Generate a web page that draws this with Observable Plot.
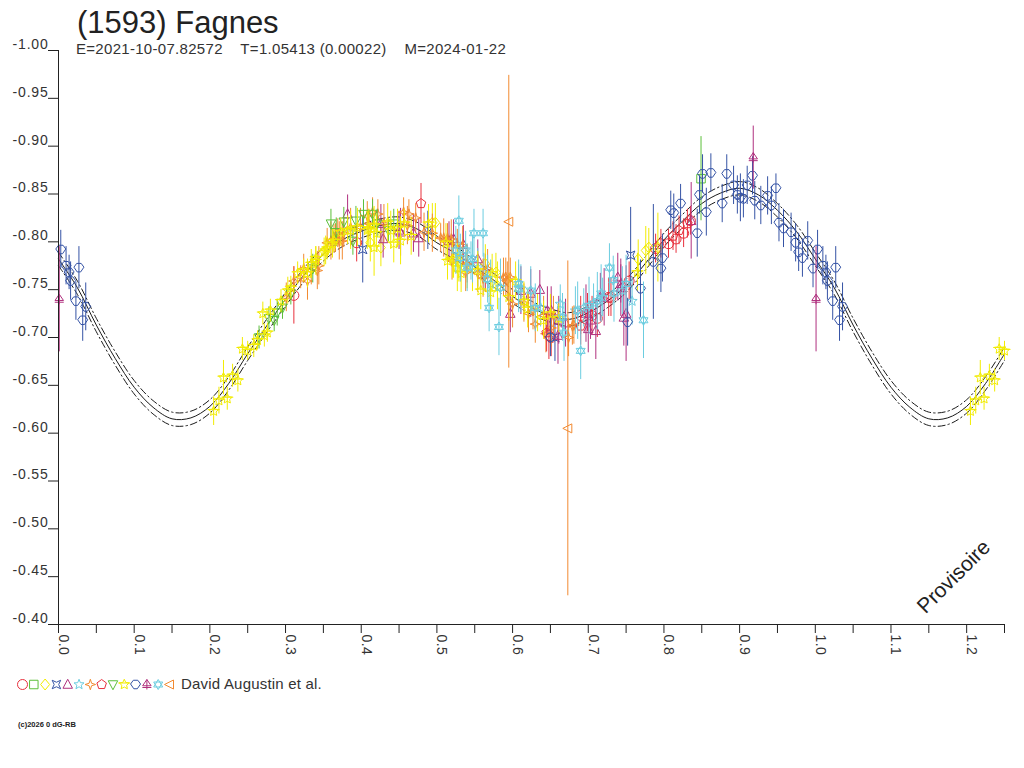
<!DOCTYPE html>
<html><head><meta charset="utf-8">
<script src="https://cdn.jsdelivr.net/npm/d3@7"></script>
<script src="https://cdn.jsdelivr.net/npm/@observablehq/plot@0.6"></script>
<style>
body{margin:0;background:#fff;font-family:"Liberation Sans",Arial,sans-serif;color:#222;}
#wrap{position:relative;width:1024px;height:768px;overflow:hidden;background:#fff;}
#title{position:absolute;left:77px;top:7px;font-size:31px;line-height:1;white-space:pre;color:#222;}
#chart{position:absolute;left:0;top:36px;}
#subtitle{position:absolute;left:76px;top:41px;font-size:15px;line-height:1;white-space:pre;color:#333;letter-spacing:0.3px;}
#legend{position:absolute;left:0;top:672px;}
#legtext{position:absolute;left:181px;top:676px;font-size:15px;line-height:1;white-space:pre;color:#333;letter-spacing:0.2px;}
#copy{position:absolute;left:18px;top:721px;font-size:7.5px;line-height:1;white-space:pre;color:#222;font-weight:bold;}
#chart g[aria-label="y-axis tick label"] text{letter-spacing:0.8px;}
#chart g[aria-label="x-axis tick label"] text{letter-spacing:0.4px;}
</style></head>
<body>
<div id="wrap">
  <div id="title">(1593) Fagnes</div>
  <div id="chart"></div>
  <div id="subtitle">E=2021-10-07.82572    T=1.05413 (0.00022)    M=2024-01-22</div>
  <div id="legend"></div>
  <div id="legtext">David Augustin et al.</div>
  <div id="copy">(c)2026 0 dG-RB</div>
</div>
<script>
// ---------- axis ticks ----------
const yTicks = [-1.00,-0.95,-0.90,-0.85,-0.80,-0.75,-0.70,-0.65,-0.60,-0.55,-0.50,-0.45,-0.40];
const xTicks = [0,0.05,0.1,0.15,0.2,0.25,0.3,0.35,0.4,0.45,0.5,0.55,0.6,0.65,0.7,0.75,0.8,0.85,0.9,0.95,1.0,1.05,1.1,1.15,1.2,1.25];
const xLabels = [0,0.1,0.2,0.3,0.4,0.5,0.6,0.7,0.8,0.9,1.0,1.1,1.2];

// ---------- fitted curve ----------
const fitPhase = [0,0.025,0.05,0.075,0.1,0.125,0.15,0.175,0.2,0.225,0.25,0.275,0.3,0.325,0.35,0.375,0.4,0.425,0.45,0.475,0.5,0.525,0.55,0.575,0.6,0.625,0.65,0.675,0.7,0.725,0.75,0.775,0.8,0.825,0.85,0.875,0.9,0.925,0.95,0.975];
const fitMag   = [-0.782,-0.752,-0.713,-0.678,-0.648,-0.627,-0.615,-0.616,-0.628,-0.652,-0.683,-0.712,-0.740,-0.766,-0.787,-0.802,-0.811,-0.817,-0.819,-0.813,-0.799,-0.788,-0.774,-0.760,-0.743,-0.731,-0.723,-0.719,-0.726,-0.738,-0.754,-0.777,-0.802,-0.822,-0.840,-0.851,-0.856,-0.849,-0.833,-0.811];
const fitBand = 0.007;

// ---------- observations: [phase, mag, error] ----------
const s1 = [[0.311,-0.744,0.03],[0.394,-0.799,0.02],[0.564,-0.767,0.02],[0.648,-0.702,0.025],[0.651,-0.700,0.02],[0.690,-0.723,0.02],[0.699,-0.726,0.02],[0.705,-0.723,0.02],[0.712,-0.720,0.02],[0.727,-0.742,0.02],[0.730,-0.742,0.02],[0.754,-0.759,0.02],[0.789,-0.793,0.015],[0.796,-0.798,0.015],[0.806,-0.798,0.015],[0.816,-0.803,0.015],[0.826,-0.809,0.015],[0.835,-0.822,0.015]];
const s2 = [[0.849,-0.866,0.044]];
const s3 = [[0.412,-0.799,0.02],[0.426,-0.794,0.02],[0.494,-0.820,0.02],[0.498,-0.820,0.02],[0.522,-0.782,0.02],[0.529,-0.778,0.02],[0.531,-0.778,0.02],[0.540,-0.771,0.02],[0.547,-0.773,0.025],[0.564,-0.777,0.02],[0.578,-0.768,0.02],[0.580,-0.754,0.025],[0.633,-0.726,0.02],[0.766,-0.782,0.02],[0.776,-0.791,0.025],[0.780,-0.794,0.02],[0.792,-0.794,0.036]];
const s4 = [[0.402,-0.792,0.035],[0.488,-0.812,0.02],[0.656,-0.700,0.025],[0.756,-0.786,0.05]];
const s5 = [[0.382,-0.829,0.02],[0.426,-0.819,0.02],[0.429,-0.803,0.02],[0.450,-0.812,0.02],[0.452,-0.810,0.025],[0.469,-0.809,0.02],[0.476,-0.804,0.02],[0.516,-0.801,0.02],[0.522,-0.803,0.02],[0.535,-0.797,0.02],[0.554,-0.782,0.02],[0.597,-0.725,0.02],[0.611,-0.749,0.025],[0.624,-0.746,0.025],[0.636,-0.750,0.02],[0.646,-0.728,0.025],[0.651,-0.728,0.025],[0.660,-0.702,0.03],[0.661,-0.718,0.025],[0.670,-0.715,0.025],[0.697,-0.725,0.03],[0.700,-0.709,0.025],[0.703,-0.718,0.02],[0.710,-0.707,0.03],[0.716,-0.742,0.025],[0.721,-0.742,0.03],[0.739,-0.763,0.025],[0.743,-0.756,0.02],[0.743,-0.752,0.03],[0.747,-0.721,0.03],[0.750,-0.725,0.05],[0.836,-0.822,0.04]];
const s6 = [[0.545,-0.780,0.02],[0.554,-0.773,0.02],[0.562,-0.768,0.02],[0.571,-0.756,0.025],[0.611,-0.751,0.025],[0.637,-0.731,0.02],[0.663,-0.735,0.02],[0.683,-0.728,0.025],[0.694,-0.731,0.02],[0.707,-0.736,0.02],[0.719,-0.742,0.02],[0.745,-0.749,0.025],[0.758,-0.738,0.025]];
const s7 = [[0.301,-0.742,0.015],[0.311,-0.759,0.015],[0.320,-0.763,0.012],[0.324,-0.772,0.015],[0.329,-0.759,0.02],[0.334,-0.770,0.015],[0.342,-0.770,0.02],[0.344,-0.775,0.02],[0.355,-0.799,0.015],[0.360,-0.801,0.02],[0.364,-0.803,0.015],[0.366,-0.804,0.015],[0.369,-0.809,0.015],[0.371,-0.801,0.02],[0.375,-0.801,0.02],[0.377,-0.809,0.015],[0.386,-0.815,0.02],[0.399,-0.815,0.02],[0.408,-0.827,0.015],[0.410,-0.819,0.015],[0.415,-0.831,0.015],[0.422,-0.829,0.015],[0.430,-0.819,0.02],[0.456,-0.831,0.015],[0.461,-0.817,0.02],[0.463,-0.829,0.015],[0.472,-0.825,0.015],[0.483,-0.810,0.02],[0.494,-0.809,0.02],[0.505,-0.804,0.015],[0.509,-0.804,0.02],[0.514,-0.804,0.015],[0.519,-0.803,0.02],[0.527,-0.798,0.015],[0.520,-0.780,0.02],[0.534,-0.796,0.02],[0.538,-0.768,0.02],[0.540,-0.777,0.02],[0.554,-0.767,0.02],[0.561,-0.762,0.02],[0.567,-0.772,0.02],[0.588,-0.763,0.02],[0.591,-0.763,0.02],[0.593,-0.759,0.02],[0.597,-0.763,0.02],[0.600,-0.735,0.025],[0.615,-0.736,0.02],[0.621,-0.725,0.02],[0.627,-0.728,0.02],[0.630,-0.714,0.02],[0.641,-0.723,0.02],[0.644,-0.704,0.02],[0.651,-0.710,0.02],[0.654,-0.723,0.02],[0.674,-0.700,0.02],[0.679,-0.712,0.02],[0.681,-0.713,0.02]];
const s8 = [[0.479,-0.840,0.021],[0.645,-0.705,0.02],[0.690,-0.712,0.02],[0.812,-0.806,0.015],[0.820,-0.812,0.015],[0.831,-0.819,0.015]];
const s9 = [[0.265,-0.700,0.012],[0.278,-0.720,0.012],[0.285,-0.718,0.012],[0.289,-0.726,0.014],[0.296,-0.731,0.012],[0.307,-0.746,0.012],[0.336,-0.772,0.015],[0.360,-0.819,0.015],[0.367,-0.810,0.015],[0.377,-0.821,0.015],[0.389,-0.801,0.015],[0.393,-0.822,0.015],[0.403,-0.829,0.015],[0.415,-0.829,0.015],[0.421,-0.819,0.015],[0.436,-0.812,0.012],[0.443,-0.819,0.015]];
const s10 = [[0.205,-0.623,0.015],[0.212,-0.634,0.014],[0.223,-0.636,0.012],[0.218,-0.658,0.018],[0.230,-0.660,0.012],[0.237,-0.655,0.012],[0.243,-0.688,0.012],[0.250,-0.686,0.01],[0.258,-0.691,0.012],[0.263,-0.697,0.01],[0.272,-0.702,0.012],[0.276,-0.705,0.01],[0.270,-0.725,0.012],[0.280,-0.728,0.012],[0.294,-0.738,0.012],[0.303,-0.749,0.014],[0.307,-0.752,0.012],[0.316,-0.767,0.012],[0.324,-0.770,0.012],[0.329,-0.767,0.015],[0.334,-0.777,0.015],[0.340,-0.783,0.012],[0.340,-0.780,0.015],[0.351,-0.789,0.015],[0.353,-0.791,0.015],[0.355,-0.793,0.012],[0.362,-0.798,0.015],[0.364,-0.801,0.012],[0.373,-0.810,0.015],[0.382,-0.812,0.015],[0.386,-0.812,0.02],[0.395,-0.815,0.02],[0.408,-0.812,0.02],[0.410,-0.814,0.02],[0.417,-0.817,0.02],[0.417,-0.794,0.03],[0.420,-0.809,0.02],[0.435,-0.820,0.02],[0.439,-0.812,0.02],[0.443,-0.798,0.02],[0.448,-0.814,0.02],[0.452,-0.801,0.025],[0.457,-0.819,0.015],[0.466,-0.806,0.02],[0.489,-0.819,0.02],[0.512,-0.799,0.02],[0.514,-0.780,0.02],[0.521,-0.782,0.02],[0.527,-0.773,0.025],[0.532,-0.767,0.02],[0.554,-0.770,0.02],[0.558,-0.749,0.02],[0.571,-0.747,0.02],[0.573,-0.767,0.02],[0.595,-0.742,0.025],[0.604,-0.759,0.02],[0.615,-0.738,0.02],[0.620,-0.730,0.02],[0.641,-0.718,0.02],[0.650,-0.725,0.02],[0.661,-0.720,0.015],[0.765,-0.768,0.02]];
const s11 = [[0.003,-0.792,0.02],[0.010,-0.775,0.02],[0.014,-0.768,0.018],[0.016,-0.759,0.02],[0.023,-0.738,0.02],[0.027,-0.773,0.022],[0.032,-0.718,0.022],[0.036,-0.732,0.025],[0.650,-0.700,0.02],[0.752,-0.716,0.025],[0.769,-0.751,0.03],[0.786,-0.779,0.06],[0.796,-0.772,0.025],[0.798,-0.783,0.025],[0.809,-0.833,0.02],[0.813,-0.830,0.02],[0.822,-0.840,0.02],[0.844,-0.809,0.025],[0.847,-0.849,0.02],[0.851,-0.871,0.02],[0.856,-0.831,0.025],[0.862,-0.872,0.02],[0.877,-0.840,0.02],[0.883,-0.871,0.02],[0.892,-0.859,0.02],[0.897,-0.849,0.02],[0.901,-0.846,0.025],[0.905,-0.845,0.02],[0.910,-0.859,0.02],[0.917,-0.869,0.02],[0.920,-0.843,0.02],[0.928,-0.838,0.02],[0.937,-0.848,0.02],[0.942,-0.838,0.02],[0.948,-0.856,0.015],[0.952,-0.820,0.02],[0.958,-0.814,0.02],[0.968,-0.810,0.02],[0.974,-0.799,0.02],[0.978,-0.789,0.02],[0.983,-0.783,0.02],[0.990,-0.801,0.02],[0.997,-0.772,0.02]];
const s12 = [[0.001,-0.740,0.055],[0.918,-0.888,0.033]];
const s13 = [[0.525,-0.791,0.025],[0.529,-0.822,0.026],[0.531,-0.783,0.025],[0.538,-0.791,0.02],[0.540,-0.773,0.025],[0.547,-0.782,0.025],[0.549,-0.809,0.025],[0.561,-0.809,0.025],[0.567,-0.761,0.025],[0.569,-0.731,0.025],[0.582,-0.711,0.03],[0.584,-0.752,0.03],[0.608,-0.751,0.025],[0.608,-0.756,0.025],[0.624,-0.749,0.025],[0.630,-0.731,0.025],[0.666,-0.721,0.025],[0.668,-0.705,0.03],[0.686,-0.728,0.03],[0.690,-0.686,0.03],[0.701,-0.733,0.03],[0.712,-0.738,0.03],[0.717,-0.746,0.03],[0.728,-0.773,0.025],[0.733,-0.760,0.025],[0.734,-0.746,0.03],[0.750,-0.756,0.03],[0.773,-0.718,0.04]];
const s14 = [[0.595,-0.821,0.153],[0.673,-0.605,0.175]];

const seriesList = [s1,s2,s3,s4,s5,s6,s7,s8,s9,s10,s11,s12,s13,s14];
const seriesColors = ["#e8303c","#5cbf3a","#f2ec00","#3553a5","#b0307e","#6ccde0","#f28a30","#e8303c","#5cbf3a","#f2ec00","#3553a5","#b0307e","#6ccde0","#f28a30"];
const legendText = "David Augustin et al.";

// ---------- custom symbols ----------
function poly(pts, extra) {
  return {draw(ctx, size) {
    const r = Math.sqrt(size / Math.PI);
    ctx.moveTo(pts[0][0]*r, pts[0][1]*r);
    for (let i = 1; i < pts.length; i++) ctx.lineTo(pts[i][0]*r, pts[i][1]*r);
    ctx.closePath();
    if (extra) for (const seg of extra) {
      ctx.moveTo(seg[0][0]*r, seg[0][1]*r);
      for (let i = 1; i < seg.length; i++) ctx.lineTo(seg[i][0]*r, seg[i][1]*r);
    }
  }};
}
function starPts(n, inner, outer=1) {
  const pts = [];
  for (let i = 0; i < 2*n; i++) {
    const a = -Math.PI/2 + i*Math.PI/n;
    const rr = i % 2 ? inner : outer;
    pts.push([rr*Math.cos(a), rr*Math.sin(a)]);
  }
  return pts;
}
function ngon(n, rot=-Math.PI/2) {
  const pts = [];
  for (let i = 0; i < n; i++) { const a = rot + i*2*Math.PI/n; pts.push([Math.cos(a), Math.sin(a)]); }
  return pts;
}
const symbols = [
  d3.symbolCircle,
  poly([[-0.85,-0.85],[0.85,-0.85],[0.85,0.85],[-0.85,0.85]]),
  poly([[0,-1.1],[0.9,0],[0,1.1],[-0.9,0]]),
  poly([[-0.85,-0.85],[0,-0.45],[0.85,-0.85],[0.45,0],[0.85,0.85],[0,0.45],[-0.85,0.85],[-0.45,0]]),
  poly([[0,-1.05],[0.95,0.75],[-0.95,0.75]]),
  poly(starPts(5, 0.45, 1.05)),
  poly(starPts(4, 0.35, 1.05)),
  poly(ngon(5)),
  poly([[0,1.05],[0.95,-0.75],[-0.95,-0.75]]),
  poly(starPts(5, 0.5, 1.05), [[[-1.2,-0.3],[1.2,-0.3]]]),
  poly([[-0.45,-0.85],[0.45,-0.85],[1,-0.1],[0.35,0.85],[-0.35,0.85],[-1,-0.1]]),
  poly([[0,-1],[0.85,0.25],[-0.85,0.25]], [[[0,-1],[0,1]],[[-0.9,0.6],[0.9,0.6]]]),
  poly([[-0.9,-0.5],[0.9,-0.5],[0,1]], [[[0,-1],[0.9,0.5],[-0.9,0.5],[0,-1]]]),
  poly([[-1,0],[0.8,-0.9],[0.8,0.9]])
];

// ---------- build tables (phase 0..0.25 repeated at 1..1.25) ----------
const xMax = 1.25;
function expand(arr) {
  const rows = arr.map(([p, m, e]) => ({p, m, e}));
  const extra = rows.filter(d => d.p + 1 <= xMax + 1e-9).map(d => ({...d, p: d.p + 1}));
  return rows.concat(extra);
}
const fitBase = fitPhase.map((p, i) => ({p, m: fitMag[i]}));
const fitRows = fitBase.concat(fitBase.filter(d => d.p + 1 <= xMax + 1e-9).map(d => ({...d, p: d.p + 1})))
  .sort((a, b) => a.p - b.p);

const dataMarks = [];
seriesList.forEach((s, i) => {
  const rows = expand(s);
  dataMarks.push(Plot.ruleX(rows, {x: "p", y1: d => d.m - d.e, y2: d => d.m + d.e, stroke: seriesColors[i], strokeWidth: 1}));
  dataMarks.push(Plot.dot(rows, {x: "p", y: "m", r: 5, symbol: symbols[i], stroke: seriesColors[i], fill: "none", strokeWidth: 1}));
});

const chart = Plot.plot({
  width: 1024, height: 624,
  marginLeft: 58, marginRight: 20, marginTop: 14, marginBottom: 36,
  x: {domain: [0, xMax]},
  y: {domain: [-1.0, -0.4], reverse: true},
  style: {fontFamily: "'Liberation Sans', Arial, sans-serif", fontSize: "14px", color: "#2a2a2a", background: "transparent", overflow: "visible"},
  marks: [
    Plot.line(fitRows, {x: "p", y: "m", stroke: "#1a1a1a", strokeWidth: 1, curve: "catmull-rom"}),
    Plot.line(fitRows, {x: "p", y: d => d.m - fitBand, stroke: "#1a1a1a", strokeWidth: 1, curve: "catmull-rom", strokeDasharray: "7,3,1.5,3"}),
    Plot.line(fitRows, {x: "p", y: d => d.m + fitBand, stroke: "#1a1a1a", strokeWidth: 1, curve: "catmull-rom", strokeDasharray: "7,3,1.5,3"}),
    ...dataMarks,
    Plot.ruleX([0], {stroke: "#222"}),
    Plot.ruleY([-0.4], {stroke: "#222"}),
    Plot.axisY(yTicks, {tickSize: 10, tickFormat: () => "", label: null, stroke: "#222"}),
    Plot.axisY(yTicks, {tickSize: 0, tickPadding: 10, dy: -6, tickFormat: d => d.toFixed(2), label: null, fontSize: 14, fill: "#333"}),
    Plot.axisX(xTicks, {tickSize: 9, tickFormat: () => "", label: null, stroke: "#222"}),
    Plot.axisX(xLabels, {tickSize: 0, tickPadding: 10, tickRotate: 90, dx: 5, tickFormat: d => d.toFixed(1), label: null, fontSize: 14, fill: "#333"}),
    Plot.text(["Provisoire"], {frameAnchor: "bottom-right", dx: -46, dy: -43, rotate: -45, fontSize: 21, fill: "#222", textAnchor: "middle"})
  ]
});
document.getElementById("chart").appendChild(chart);

// ---------- legend ----------
const legend = Plot.plot({
  width: 180, height: 24, margin: 0,
  x: {domain: [0, 13], range: [22, 169], axis: null},
  style: {background: "transparent"},
  marks: seriesColors.map((c, i) => Plot.dot([i], {x: d => d, r: 5, symbol: symbols[i], stroke: c, fill: "none", strokeWidth: 1}))
});
document.getElementById("legend").appendChild(legend);
document.getElementById("legtext").textContent = legendText;
</script>
</body></html>
